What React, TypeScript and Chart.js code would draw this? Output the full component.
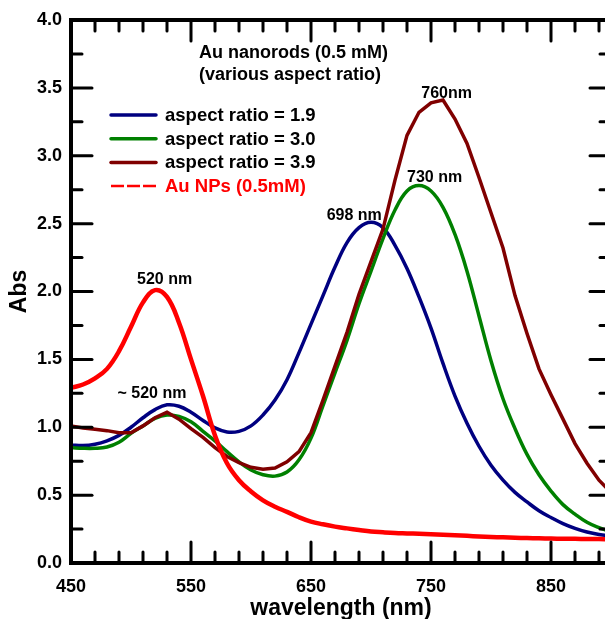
import React, { useEffect, useRef } from 'react';
import { Chart, registerables } from 'chart.js';

Chart.register(...registerables);

// ---- data ----
const wavelengths = [
  450, 460, 470, 480, 490, 500, 510, 520, 530, 540,
  550, 560, 570, 580, 590, 600, 610, 620, 630, 640,
  650, 660, 670, 680, 690, 700, 710, 720, 730, 740,
  750, 760, 770, 780, 790, 800, 810, 820, 830, 840,
  850, 860, 870, 880, 890, 900,
];
const ar19 = [
  0.87, 0.865, 0.875, 0.9, 0.94, 1.0, 1.07, 1.13, 1.165, 1.155,
  1.11, 1.05, 0.995, 0.965, 0.97, 1.01, 1.09, 1.2, 1.35, 1.55,
  1.76, 1.97, 2.18, 2.36, 2.47, 2.51, 2.47, 2.34, 2.17, 1.96,
  1.73, 1.47, 1.23, 1.03, 0.86, 0.72, 0.61, 0.52, 0.45, 0.385,
  0.335, 0.29, 0.255, 0.228, 0.21, 0.2,
];
const ar30 = [
  0.85, 0.845, 0.845, 0.855, 0.89, 0.955, 1.01, 1.065, 1.09, 1.08,
  1.04, 0.97, 0.9, 0.82, 0.745, 0.685, 0.65, 0.64, 0.67, 0.76,
  0.92, 1.16, 1.4, 1.64, 1.91, 2.15, 2.39, 2.6, 2.74, 2.78,
  2.74, 2.62, 2.42, 2.15, 1.82, 1.49, 1.21, 0.99, 0.8, 0.65,
  0.53, 0.43, 0.36, 0.3, 0.26, 0.23,
];
const ar39 = [
  1.01, 0.995, 0.985, 0.975, 0.96, 0.96, 1.01, 1.07, 1.11, 1.06,
  0.99, 0.925, 0.85, 0.785, 0.74, 0.705, 0.69, 0.7, 0.745, 0.82,
  0.96, 1.2, 1.45, 1.7, 1.98, 2.22, 2.46, 2.82, 3.15, 3.32,
  3.39, 3.41, 3.27, 3.09, 2.84, 2.58, 2.32, 1.97, 1.69, 1.43,
  1.24, 1.06, 0.88, 0.735, 0.61, 0.52,
];
const auNPs = [
  1.29, 1.315, 1.36, 1.43, 1.56, 1.74, 1.92, 2.01, 1.96, 1.77,
  1.5, 1.23, 0.94, 0.735, 0.61, 0.527, 0.462, 0.415, 0.377, 0.337,
  0.305, 0.285, 0.268, 0.255, 0.243, 0.232, 0.226, 0.221, 0.218, 0.215,
  0.212, 0.209, 0.205, 0.2, 0.196, 0.192, 0.189, 0.186, 0.184, 0.182,
  0.18, 0.179, 0.178, 0.177, 0.176, 0.175,
];

const seriesLabels = ['aspect ratio = 1.9', 'aspect ratio = 3.0', 'aspect ratio = 3.9', 'Au NPs (0.5mM)'];
const seriesValues = [ar19, ar30, ar39, auNPs];
const seriesColors = ['#000080', '#008000', '#800000', '#ff0000'];
const seriesSmooth = [true, true, false, true];

const xTickValues = [450, 550, 650, 750, 850];
const xTickLabels = ['450', '550', '650', '750', '850'];
const yTickValues = [0, 0.5, 1, 1.5, 2, 2.5, 3, 3.5, 4];
const yTickLabels = ['0.0', '0.5', '1.0', '1.5', '2.0', '2.5', '3.0', '3.5', '4.0'];
const xMinorStep = 20;
const yMinorStep = 0.25;

const titleLines = ['Au nanorods (0.5 mM)', '(various aspect ratio)'];
const peakLabels = ['520 nm', '~ 520 nm', '698 nm', '730 nm', '760nm'];
const peakLabelX = [528, 517.5, 686, 753, 763];
const peakLabelY = [2.09, 1.25, 2.56, 2.84, 3.46];

const FONT = '"Liberation Sans", Arial, sans-serif';

const decorPlugin = {
  id: 'decor',
  afterDatasetsDraw(chart: any) {
    const { ctx, chartArea: a } = chart;
    const x = chart.scales.x;
    const y = chart.scales.y;
    ctx.save();
    // frame
    ctx.strokeStyle = '#000';
    ctx.lineWidth = 4;
    ctx.strokeRect(a.left, a.top, a.right - a.left, a.bottom - a.top);
    // inward ticks
    ctx.lineWidth = 3;
    ctx.lineCap = 'round';
    const seg = (x1: number, y1: number, x2: number, y2: number) => {
      ctx.beginPath();
      ctx.moveTo(x1, y1);
      ctx.lineTo(x2, y2);
      ctx.stroke();
    };
    for (let v = x.min; v <= x.max + 1e-6; v += xMinorStep) {
      const px = x.getPixelForValue(v);
      const major = xTickValues.some((t) => Math.abs(t - v) < 1e-6);
      const len = major ? 21 : 11;
      seg(px, a.bottom, px, a.bottom - len);
      seg(px, a.top, px, a.top + len);
    }
    for (let v = y.min; v <= y.max + 1e-6; v += yMinorStep) {
      const py = y.getPixelForValue(v);
      const major = yTickValues.some((t) => Math.abs(t - v) < 1e-6);
      const len = major ? 21 : 11;
      seg(a.left, py, a.left + len, py);
      seg(a.right, py, a.right - len, py);
    }
    // title text
    ctx.fillStyle = '#000';
    ctx.font = `bold 18px ${FONT}`;
    ctx.textAlign = 'left';
    ctx.textBaseline = 'middle';
    titleLines.forEach((t, i) => ctx.fillText(t, a.left + 128, a.top + 33 + i * 22));
    // legend
    ctx.font = `bold 18.5px ${FONT}`;
    seriesLabels.forEach((lab, i) => {
      const ly = a.top + 95 + i * 23.7;
      ctx.strokeStyle = seriesColors[i];
      const dashed = i === 3;
      ctx.lineWidth = dashed ? 2.5 : 3.5;
      ctx.lineCap = dashed ? 'butt' : 'round';
      ctx.setLineDash(dashed ? [13, 3] : []);
      seg(a.left + 40, ly, a.left + 85, ly);
      ctx.setLineDash([]);
      ctx.fillStyle = dashed ? '#ff0000' : '#000';
      ctx.fillText(lab, a.left + 94, ly + 1);
    });
    // peak annotations
    ctx.fillStyle = '#000';
    ctx.font = `bold 16px ${FONT}`;
    ctx.textAlign = 'center';
    peakLabels.forEach((t, i) => {
      ctx.fillText(t, x.getPixelForValue(peakLabelX[i]), y.getPixelForValue(peakLabelY[i]));
    });
    ctx.restore();
  },
};

export default function App() {
  const ref = useRef<HTMLCanvasElement>(null);
  useEffect(() => {
    if (!ref.current) return;
    const datasets = seriesLabels.map((label, i) => ({
      label,
      data: wavelengths.map((w, k) => ({ x: w, y: seriesValues[i][k] })),
      borderColor: seriesColors[i],
      backgroundColor: seriesColors[i],
      borderWidth: i === 3 ? 4.5 : 3.5,
      pointRadius: 0,
      tension: seriesSmooth[i] ? 0.4 : 0,
      fill: false,
      order: [3, 2, 1, 0][i],
    }));
    const chart = new Chart(ref.current, {
      type: 'line',
      data: { datasets },
      options: {
        animation: false,
        responsive: false,
        maintainAspectRatio: false,
        layout: { padding: { top: 20, right: 29, left: 0, bottom: 0 } },
        plugins: { legend: { display: false }, tooltip: { enabled: false } },
        scales: {
          x: {
            type: 'linear',
            min: 450,
            max: 900,
            grid: { display: false, drawTicks: false },
            border: { display: false },
            afterBuildTicks: (s: any) => {
              s.ticks = xTickValues.map((v) => ({ value: v }));
            },
            afterFit: (s: any) => {
              s.height = 56;
            },
            ticks: {
              autoSkip: false,
              maxRotation: 0,
              padding: 13,
              color: '#000',
              font: { family: FONT, size: 18, weight: 'bold' },
              callback: (v: any) => {
                const i = xTickValues.indexOf(Number(v));
                return i >= 0 ? xTickLabels[i] : '';
              },
            },
            title: {
              display: true,
              text: 'wavelength (nm)',
              color: '#000',
              font: { family: FONT, size: 23, weight: 'bold' },
              padding: { top: 0, bottom: -3 },
            },
          },
          y: {
            type: 'linear',
            min: 0,
            max: 4,
            grid: { display: false, drawTicks: false },
            border: { display: false },
            afterBuildTicks: (s: any) => {
              s.ticks = yTickValues.map((v) => ({ value: v }));
            },
            afterFit: (s: any) => {
              s.width = 71;
            },
            ticks: {
              autoSkip: false,
              padding: 9,
              color: '#000',
              font: { family: FONT, size: 18, weight: 'bold' },
              callback: (v: any) => {
                const i = yTickValues.indexOf(Number(v));
                return i >= 0 ? yTickLabels[i] : '';
              },
            },
            title: {
              display: true,
              text: 'Abs',
              color: '#000',
              font: { family: FONT, size: 23, weight: 'bold' },
              padding: { top: 6, bottom: 0 },
            },
          },
        },
      },
      plugins: [decorPlugin],
    });
    return () => chart.destroy();
  }, []);
  return (
    <div
      style={{
        position: 'fixed',
        left: 0,
        top: 0,
        width: 605,
        height: 619,
        overflow: 'hidden',
        background: '#fff',
      }}
    >
      <canvas ref={ref} width={640} height={619} style={{ display: 'block' }} />
    </div>
  );
}
